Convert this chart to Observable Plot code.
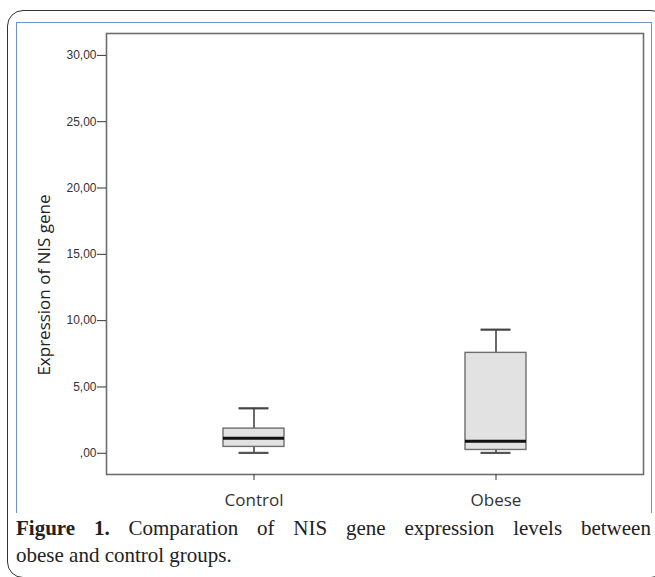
<!DOCTYPE html>
<html>
<head>
<meta charset="utf-8">
<script src="https://cdn.jsdelivr.net/npm/d3@7"></script>
<script src="https://cdn.jsdelivr.net/npm/@observablehq/plot@0.6"></script>
<style>
  html, body { margin: 0; padding: 0; background: #fff; }
  #page { position: relative; width: 655px; height: 577px; overflow: hidden; background: #fff; }
  #outer { position: absolute; left: 7px; top: 10px; width: 660px; height: 568px; border: 1.5px solid #333; border-radius: 16px; box-sizing: border-box; }
  .blue { position: absolute; background: #6f93c4; }
  #chart { position: absolute; left: 0; top: 0; }
  #ylabel { position: absolute; left: 44px; top: 285px; width: 300px; height: 18px; line-height: 18px; margin-left: -150px; margin-top: -9px; text-align: center; transform: rotate(-90deg); font-family: "Open Sans", sans-serif; font-size: 17px; color: #222; white-space: nowrap; }
  #caption { position: absolute; left: 16px; top: 515px; width: 635px; font-family: "Liberation Serif", "Times New Roman", serif; font-size: 21px; line-height: 27px; color: #222; }
  #caption .l1 { white-space: nowrap; display: flex; justify-content: space-between; }
</style>
</head>
<body>
<div id="page">
  <div id="outer"></div>
  <div class="blue" style="left:16px; top:22px; width:636px; height:1px;"></div>
  <div class="blue" style="left:16px; top:22px; width:1px; height:491px;"></div>
  <div class="blue" style="left:651px; top:22px; width:1px; height:491px;"></div>
  <div id="chart"></div>
  <div id="ylabel">Expression of NIS gene</div>
  <div id="caption">
    <div class="l1"><span><b>Figure</b></span><span><b>1.</b></span><span>Comparation</span><span>of</span><span>NIS</span><span>gene</span><span>expression</span><span>levels</span><span>between</span></div>
    <div>obese and control groups.</div>
  </div>
</div>
<script>
const groups = ["Control", "Obese"];
const minV = [0.03, 0.03];
const q1V = [0.48, 0.25];
const medV = [1.13, 0.90];
const q3V = [1.86, 7.57];
const maxV = [3.39, 9.32];
const yTicks = [0, 5, 10, 15, 20, 25, 30];

const rows = groups.map((g, i) => ({group: g, min: minV[i], q1: q1V[i], median: medV[i], q3: q3V[i], max: maxV[i]}));

const plot = Plot.plot({
  width: 655,
  height: 520,
  marginLeft: 106,
  marginRight: 12,
  marginTop: 33,
  marginBottom: 46,
  style: {background: "transparent", overflow: "visible"},
  x: {type: "band", domain: groups, paddingInner: 0.7485, paddingOuter: 0.481},
  y: {domain: [-1.6, 31.65]},
  marks: [
    Plot.ruleX(rows, {x: "group", y1: "q3", y2: "max", stroke: "#444", strokeWidth: 1.6}),
    Plot.ruleX(rows, {x: "group", y1: "min", y2: "q1", stroke: "#444", strokeWidth: 1.6}),
    Plot.barY(rows, {x: "group", y1: "q1", y2: "q3", fill: "#e2e2e2", stroke: "#6e6e6e", strokeWidth: 1.4}),
    Plot.tickY(rows, {x: "group", y: "max", insetLeft: 15.5, insetRight: 15.5, stroke: "#444", strokeWidth: 2.2}),
    Plot.tickY(rows, {x: "group", y: "min", insetLeft: 15.5, insetRight: 15.5, stroke: "#555", strokeWidth: 2.2}),
    Plot.tickY(rows, {x: "group", y: "median", stroke: "#111", strokeWidth: 3}),
    Plot.frame({stroke: "#6e6e6e", strokeWidth: 1.6}),
    Plot.axisY(yTicks, {
      tickSize: 9, tickPadding: 1, label: null, color: "#333",
      fontSize: 12, fontFamily: "Liberation Sans, sans-serif",
      tickFormat: d => d === 0 ? ",00" : d + ",00"
    }),
    Plot.axisX({tickSize: 6, tickPadding: 13, label: null, color: "#333", fontSize: 17, fontFamily: "Open Sans, sans-serif"})
  ]
});
document.getElementById("chart").appendChild(plot);
</script>
</body>
</html>
